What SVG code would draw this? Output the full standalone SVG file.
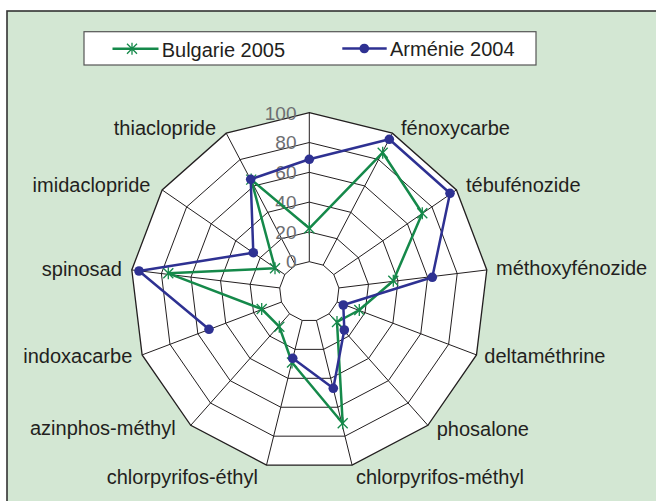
<svg xmlns="http://www.w3.org/2000/svg" width="656" height="501" viewBox="0 0 656 501">
<style>
text{font-family:"Liberation Sans",Arial,sans-serif;font-size:20px;fill:#231f20}
.val{font-size:19px;fill:#6d6e71;text-anchor:end}
.grid{fill:none;stroke:#231f20;stroke-width:1}
.bul{fill:none;stroke:#15894a;stroke-width:2.5;stroke-linejoin:round}
.arm{fill:none;stroke:#2e3192;stroke-width:2.5;stroke-linejoin:round}
.star{fill:none;stroke:#15894a;stroke-width:1.3}
.dot{fill:#2e3192}
</style>
<defs>
<path id="starm" class="star" d="M-5,-5L5,5M-5,5L5,-5M0,-6V6"/>
<circle id="dotm" class="dot" r="4.8"/>
</defs>
<rect x="7" y="11" width="700" height="520" fill="#d3e7d3" stroke="#333" stroke-width="1.6"/>
<g id="legend">
<rect x="84" y="31.7" width="452" height="33.3" fill="#fff" stroke="#555" stroke-width="1.2"/>
<line x1="112.5" y1="48.7" x2="158.5" y2="48.7" class="bul"/>
<use href="#starm" x="132" y="48.7"/>
<text x="161.7" y="56.5">Bulgarie 2005</text>
<line x1="342.3" y1="48.5" x2="386.7" y2="48.5" class="arm"/>
<use href="#dotm" x="364.3" y="48.5"/>
<text x="390" y="56.3">Arménie 2004</text>
</g>
<g id="grid">
<polygon points="309.3,112.7 392.39,133.18 456.45,189.93 486.8,269.95 476.48,354.9 427.87,425.33 352.09,465.1 266.51,465.1 190.73,425.33 142.12,354.9 131.8,269.95 162.15,189.93 226.21,133.18" fill="#fff" stroke="#231f20" stroke-width="1.3"/>
<polygon class="grid" points="309.3,142.5 378.54,159.57 431.92,206.86 457.21,273.54 448.62,344.34 408.1,403.03 344.96,436.17 273.64,436.17 210.5,403.03 169.98,344.34 161.39,273.54 186.68,206.86 240.06,159.57"/>
<polygon class="grid" points="309.3,172.3 364.69,185.95 407.4,223.79 427.63,277.13 420.75,333.77 388.34,380.72 337.83,407.24 280.77,407.24 230.26,380.72 197.85,333.77 190.97,277.13 211.2,223.79 253.91,185.95"/>
<polygon class="grid" points="309.3,202.1 350.85,212.34 382.87,240.72 398.05,280.72 392.89,323.2 368.58,358.42 330.7,378.3 287.9,378.3 250.02,358.42 225.71,323.2 220.55,280.72 235.73,240.72 267.75,212.34"/>
<polygon class="grid" points="309.3,231.9 337,238.73 358.35,257.64 368.47,284.32 365.03,312.63 348.82,336.11 323.56,349.37 295.04,349.37 269.78,336.11 253.57,312.63 250.13,284.32 260.25,257.64 281.6,238.73"/>
<polygon class="grid" points="309.3,261.7 323.15,265.11 333.82,274.57 338.88,287.91 337.16,302.07 329.06,313.81 316.43,320.43 302.17,320.43 289.54,313.81 281.44,302.07 279.72,287.91 284.78,274.57 295.45,265.11"/>
<path class="grid" d="M309.3,261.7L309.3,112.7M323.15,265.11L392.39,133.18M333.82,274.57L456.45,189.93M338.88,287.91L486.8,269.95M337.16,302.07L476.48,354.9M329.06,313.81L427.87,425.33M316.43,320.43L352.09,465.1M302.17,320.43L266.51,465.1M289.54,313.81L190.73,425.33M281.44,302.07L142.12,354.9M279.72,287.91L131.8,269.95M284.78,274.57L162.15,189.93M295.45,265.11L226.21,133.18"/>
</g>
<g id="axis-values">
<text class="val" x="296.5" y="119.5">100</text>
<text class="val" x="296.5" y="149.3">80</text>
<text class="val" x="296.5" y="179">60</text>
<text class="val" x="296.5" y="208.8">40</text>
<text class="val" x="296.5" y="238.5">20</text>
<text class="val" x="296.5" y="268.3">0</text>
</g>
<g id="series-bulgarie">
<polygon class="bul" points="309.3,228.3 382.7,152.7 422.3,213.3 393.3,280.7 359.3,310 337,322 342.7,423.3 292,362.5 279.3,326.7 261.7,309 168.3,273.3 275,268.3 251.2,179.6"/>
<use href="#starm" x="309.3" y="228.3"/>
<use href="#starm" x="382.7" y="152.7"/>
<use href="#starm" x="422.3" y="213.3"/>
<use href="#starm" x="393.3" y="280.7"/>
<use href="#starm" x="359.3" y="310"/>
<use href="#starm" x="337" y="322"/>
<use href="#starm" x="342.7" y="423.3"/>
<use href="#starm" x="292" y="362.5"/>
<use href="#starm" x="279.3" y="326.7"/>
<use href="#starm" x="261.7" y="309"/>
<use href="#starm" x="168.3" y="273.3"/>
<use href="#starm" x="275" y="268.3"/>
<use href="#starm" x="251.2" y="179.6"/>
</g>
<g id="series-armenie">
<polyline class="arm" points="292.7,358.3 333.3,388.3 344.3,330 343.3,305 432.3,277.3 450,193.3 389.3,139.3 309.3,159.3 250.7,179.3 253.3,252.7 139,271 209,329.3"/>
<use href="#dotm" x="292.7" y="358.3"/>
<use href="#dotm" x="333.3" y="388.3"/>
<use href="#dotm" x="344.3" y="330"/>
<use href="#dotm" x="343.3" y="305"/>
<use href="#dotm" x="432.3" y="277.3"/>
<use href="#dotm" x="450" y="193.3"/>
<use href="#dotm" x="389.3" y="139.3"/>
<use href="#dotm" x="309.3" y="159.3"/>
<use href="#dotm" x="250.7" y="179.3"/>
<use href="#dotm" x="253.3" y="252.7"/>
<use href="#dotm" x="139" y="271"/>
<use href="#dotm" x="209" y="329.3"/>
</g>
<g id="category-labels">
<text x="113.8" y="135">thiaclopride</text>
<text x="401" y="135">fénoxycarbe</text>
<text x="32.6" y="191.5">imidaclopride</text>
<text x="466" y="191.5">tébufénozide</text>
<text x="41.8" y="275.5">spinosad</text>
<text x="496" y="275">méthoxyfénozide</text>
<text x="23.3" y="362.7">indoxacarbe</text>
<text x="484.3" y="362.5">deltaméthrine</text>
<text x="30" y="435">azinphos-méthyl</text>
<text x="436.7" y="435.5">phosalone</text>
<text x="106.7" y="484">chlorpyrifos-éthyl</text>
<text x="356" y="484">chlorpyrifos-méthyl</text>
</g>
</svg>
